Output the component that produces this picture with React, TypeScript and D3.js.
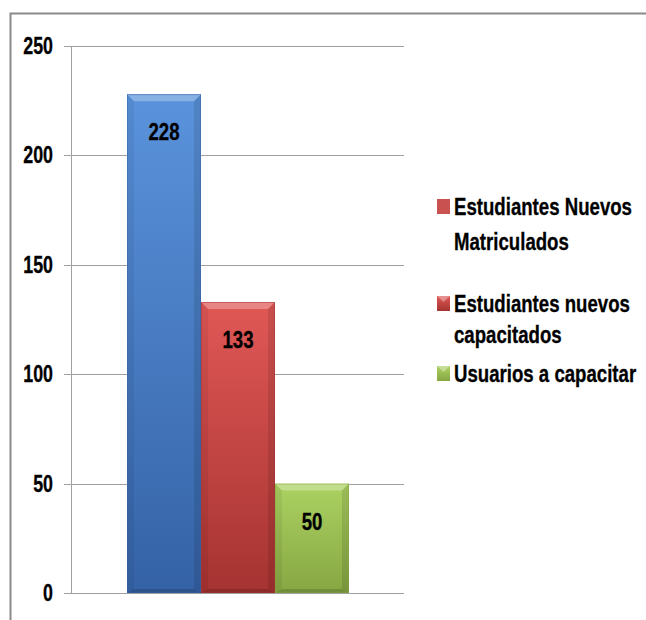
import React from "react";
import * as d3 from "d3";

const series = ["Estudiantes Nuevos Matriculados", "Estudiantes nuevos capacitados", "Usuarios a capacitar"];
const values = [228, 133, 50];
const legendLines = [["Estudiantes Nuevos", "Matriculados"], ["Estudiantes nuevos", "capacitados"], ["Usuarios a capacitar"]];
const yTicks = [0, 50, 100, 150, 200, 250];
const topColors = ["#5a93dc", "#e05856", "#acd262"];
const bottomColors = ["#3562a6", "#a53331", "#86a642"];
const legendFlat = [true, false, false];
const legendColors = ["#c9514f", "#c8403e", "#93b84a"];

const FONT = "'Liberation Sans', Arial, sans-serif";
const SX = 0.81;
const SY = 1.07;

function NText({ x, y, anchor, size, children }: { x: number; y: number; anchor?: string; size: number; children: React.ReactNode }) {
  return (
    <text
      transform={`translate(${x},${y}) scale(${SX},${SY})`}
      textAnchor={anchor || "start"}
      fontFamily={FONT}
      fontWeight="bold"
      fontSize={size}
      fill="#000"
      stroke="#000"
      strokeWidth={0.3}
    >
      {children}
    </text>
  );
}

export default function App() {
  const W = 646, H = 620;
  const plotLeft = 71, plotRight = 404;
  const y = d3.scaleLinear().domain([0, 250]).range([593, 46]);
  const x = d3.scaleBand<string>().domain(series).range([127, 349]).paddingInner(0);
  const bw = x.bandwidth();
  const bev = 7;
  const baselines = [215, 312, 382];
  const spacing = [35, 31, 0];

  return (
    <svg width={W} height={H} style={{ position: "absolute", left: 0, top: 0, background: "#fff" }}>
      <defs>
        {series.map((s, i) => (
          <linearGradient key={i} id={`g${i}`} x1="0" y1="0" x2="0" y2="1">
            <stop offset="0" stopColor={topColors[i]} />
            <stop offset="1" stopColor={bottomColors[i]} />
          </linearGradient>
        ))}
      </defs>
      <path d={`M10.5,${H} L10.5,13.5 L${W},13.5`} fill="none" stroke="#8a8a8a" strokeWidth={2} />
      {yTicks.map((t) => (
        <g key={t}>
          <line x1={64} x2={plotRight} y1={Math.round(y(t)) + 0.5} y2={Math.round(y(t)) + 0.5} stroke="#a0a0a0" strokeWidth={1} />
          <NText x={53} y={y(t) + 8} anchor="end" size={22}>{t}</NText>
        </g>
      ))}
      <line x1={plotLeft + 0.5} x2={plotLeft + 0.5} y1={y(250)} y2={y(0)} stroke="#a0a0a0" strokeWidth={1} />
      {series.map((s, i) => {
        const x0 = x(s)!;
        const yt = y(values[i]);
        const yb = y(0);
        return (
          <g key={s}>
            <rect x={x0} y={yt} width={bw} height={yb - yt} fill={`url(#g${i})`} />
            <polygon points={`${x0},${yt} ${x0 + bw},${yt} ${x0 + bw - bev},${yt + bev} ${x0 + bev},${yt + bev}`} fill="#fff" opacity={0.28} />
            <polygon points={`${x0},${yt} ${x0 + bev},${yt + bev} ${x0 + bev},${yb - 4} ${x0},${yb}`} fill="#000" opacity={0.06} />
            <polygon points={`${x0 + bw},${yt} ${x0 + bw - bev},${yt + bev} ${x0 + bw - bev},${yb - 4} ${x0 + bw},${yb}`} fill="#000" opacity={0.1} />
            <polygon points={`${x0},${yb} ${x0 + bev},${yb - 4} ${x0 + bw - bev},${yb - 4} ${x0 + bw},${yb}`} fill="#000" opacity={0.15} />
            <rect x={x0 + 0.5} y={yt + 0.5} width={bw - 1} height={yb - yt - 1} fill="none" stroke={bottomColors[i]} strokeOpacity={0.5} />
            <NText x={x0 + bw / 2} y={yt + 46} anchor="middle" size={23}>{values[i]}</NText>
          </g>
        );
      })}
      {series.map((s, i) => {
        const b = baselines[i];
        const mx = 437, my = b - 16, mw = 13, mh = 15;
        return (
          <g key={`l${i}`}>
            {legendFlat[i] ? (
              <rect x={mx} y={my} width={mw} height={mh} fill={legendColors[i]} />
            ) : (
              <g>
                <rect x={mx} y={my} width={mw} height={mh} fill={`url(#g${i})`} />
                <polygon points={`${mx},${my} ${mx + mw},${my} ${mx + mw / 2},${my + 6}`} fill="#fff" opacity={0.35} />
              </g>
            )}
            {legendLines[i].map((line, j) => (
              <NText key={j} x={454} y={b + j * spacing[i]} size={23}>{line}</NText>
            ))}
          </g>
        );
      })}
    </svg>
  );
}
